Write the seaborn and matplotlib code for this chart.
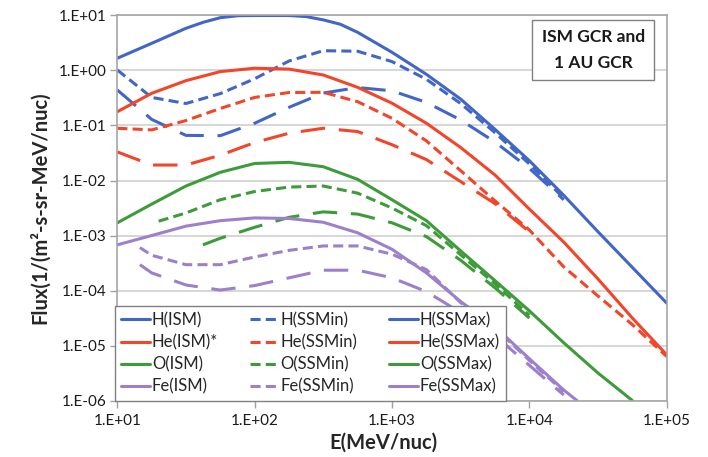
import matplotlib
matplotlib.use("Agg")
import matplotlib.pyplot as plt
import seaborn as sns
from matplotlib.lines import Line2D
from matplotlib.ticker import FixedLocator, FuncFormatter, NullLocator
import numpy as np

# Kinetic energy grid (MeV/nuc), quarter-decade steps
E_GRID = [10, 17.8, 31.6, 56.2, 100, 178, 316, 562, 1000, 1780, 3160,
          5620, 10000, 17800, 31600, 56200, 100000]

# Differential flux, 1/(m^2 s sr MeV/nuc)
h_ism_e = [10, 17.8, 31.6, 42.2, 56.2, 75, 100, 178, 237, 316, 421, 562,
           1000, 1780, 3160, 5620, 10000, 17800, 31600, 56200, 100000]
h_ism = [1.67, 3.12, 5.85, 7.52, 9.12, 9.9, 10.0, 10.0, 9.55, 8.32, 6.92,
         4.94, 2.14, 0.851, 0.302, 0.0851, 0.0229, 5.37e-3, 1.17e-3, 2.63e-4,
         5.89e-5]
h_ssmin = [1.02, 0.324, 0.251, 0.380, 0.708, 1.49, 2.29, 2.24, 1.45, 0.692,
           0.251, 0.0741, 0.0200, 4.79e-3]
h_ssmax = [0.442, 0.129, 0.0661, 0.0653, 0.110, 0.214, 0.389, 0.490, 0.427,
           0.263, 0.126, 0.0501, 0.0166, 4.47e-3]

he_ism = [0.178, 0.385, 0.653, 0.955, 1.10, 1.06, 0.828, 0.494, 0.254, 0.110,
          0.0398, 0.0126, 3.02e-3, 7.59e-4, 1.62e-4, 3.16e-5, 6.76e-6]
he_ssmin = [0.0891, 0.0832, 0.123, 0.204, 0.324, 0.398, 0.401, 0.271, 0.135,
            0.0525, 0.0151, 4.27e-3, 1.26e-3, 2.69e-4, 7.94e-5, 2.40e-5, 6.31e-6]
he_ssmax = [0.0331, 0.0191, 0.0191, 0.0288, 0.0490, 0.0724, 0.0891, 0.0776,
            0.0447, 0.0240, 9.55e-3, 3.80e-3, 1.17e-3]

o_ism = [1.70e-3, 3.72e-3, 7.94e-3, 0.0141, 0.0204, 0.0214, 0.0178, 0.0105,
         4.47e-3, 1.86e-3, 5.25e-4, 1.51e-4, 4.27e-5, 1.12e-5, 3.16e-6, 1.0e-6]
o_ssmin_e = [20, 31.6, 56.2, 100, 178, 316, 562, 1000, 1780, 3160, 5620, 10000]
o_ssmin = [1.82e-3, 2.57e-3, 4.47e-3, 6.31e-3, 7.59e-3, 7.94e-3, 5.89e-3,
           3.16e-3, 1.51e-3, 4.47e-4, 1.32e-4, 3.55e-5]
o_ssmax_e = [42, 56.2, 100, 178, 316, 562, 1000, 1780, 3160, 5620, 10000]
o_ssmax = [6.76e-4, 8.91e-4, 1.41e-3, 2.14e-3, 2.69e-3, 2.45e-3, 1.70e-3,
           9.55e-4, 3.55e-4, 1.12e-4, 3.16e-5]

fe_ism_e = [10, 17.8, 31.6, 56.2, 100, 178, 316, 562, 1000, 1780, 3160, 5620,
            10000, 17800, 22200]
fe_ism = [6.76e-4, 1.0e-3, 1.48e-3, 1.86e-3, 2.09e-3, 2.04e-3, 1.74e-3,
          1.12e-3, 5.62e-4, 2.09e-4, 6.31e-5, 2.19e-5, 5.75e-6, 1.55e-6, 1.0e-6]
fe_min_e = [14.6, 17.8, 31.6, 56.2, 100, 178, 316, 562, 1000, 1780, 3160,
            5620, 10000, 17800]
fe_ssmin = [6.03e-4, 4.37e-4, 2.95e-4, 2.95e-4, 4.07e-4, 5.37e-4, 6.46e-4,
            6.46e-4, 4.57e-4, 2.40e-4, 6.03e-5, 2.09e-5, 5.37e-6, 1.45e-6]
fe_ssmax = [2.95e-4, 2.09e-4, 1.26e-4, 1.02e-4, 1.23e-4, 1.70e-4, 2.34e-4,
            2.34e-4, 1.70e-4, 9.55e-5, 3.98e-5, 1.51e-5, 4.37e-6, 1.26e-6]

labels_ism = ["H(ISM)", "He(ISM)*", "O(ISM)", "Fe(ISM)"]
labels_min = ["H(SSMin)", "He(SSMin)", "O(SSMin)", "Fe(SSMin)"]
labels_max = ["H(SSMax)", "He(SSMax)", "O(SSMax)", "Fe(SSMax)"]

BLUE, RED, GREEN, PURPLE = "#4166c6", "#f2452a", "#3d9b3a", "#9c80cb"
SOLID = "-"
SHORT = (0, (3.3, 1.7))
LONG = (0, (8.0, 4.5))
LW = 2.2

series = [
    (h_ism_e, h_ism, BLUE, SOLID), (E_GRID[:14], h_ssmin, BLUE, SHORT),
    (E_GRID[:14], h_ssmax, BLUE, LONG),
    (E_GRID, he_ism, RED, SOLID), (E_GRID, he_ssmin, RED, SHORT),
    (E_GRID[:13], he_ssmax, RED, LONG),
    (E_GRID[:16], o_ism, GREEN, SOLID), (o_ssmin_e, o_ssmin, GREEN, SHORT),
    (o_ssmax_e, o_ssmax, GREEN, LONG),
    (fe_ism_e, fe_ism, PURPLE, SOLID), (fe_min_e, fe_ssmin, PURPLE, SHORT),
    (fe_min_e, fe_ssmax, PURPLE, LONG),
]

sns.set_style("white")
plt.rcParams["font.family"] = ["Lato", "DejaVu Sans"]

fig = plt.figure(figsize=(7.08, 4.57), dpi=100)
ax = fig.add_axes([0.1657, 0.1236, 0.7760, 0.8425])
ax.set_xscale("log")
ax.set_yscale("log")

for e, f, c, ls in series:
    sns.lineplot(x=e, y=f, ax=ax, color=c, linewidth=LW, linestyle=ls,
                 estimator=None, sort=False, legend=False)
for line in ax.lines:
    line.set_dash_capstyle("butt")
    line.set_solid_joinstyle("round")

ax.set_xlim(10, 1e5)
ax.set_ylim(1e-6, 1e1)

fmt = FuncFormatter(lambda v, _: "1.E{:+03d}".format(int(round(np.log10(v)))))
ax.xaxis.set_major_locator(FixedLocator([1e1, 1e2, 1e3, 1e4, 1e5]))
ax.yaxis.set_major_locator(FixedLocator([10.0 ** k for k in range(-6, 2)]))
ax.xaxis.set_minor_locator(NullLocator())
ax.yaxis.set_minor_locator(NullLocator())
ax.xaxis.set_major_formatter(fmt)
ax.yaxis.set_major_formatter(fmt)
ax.tick_params(axis="both", which="major", direction="out", length=5,
               width=1, color="#a0a0a0", labelsize=11, labelcolor="#1a1a1a",
               bottom=True, left=True)
ax.tick_params(axis="y", pad=3)
ax.tick_params(axis="x", pad=5)
ax.yaxis.grid(True, color="#d0d0d0", linewidth=1.2)
ax.xaxis.grid(False)
ax.set_axisbelow(True)
for s in ax.spines.values():
    s.set_color("#a6a6a6")
    s.set_linewidth(1.2)

ax.set_xlabel("E(MeV/nuc)", fontsize=14.5, fontweight="bold")
ax.xaxis.set_label_coords(0.485, -0.083)
ax.set_ylabel("Flux(1/(m²-s-sr-MeV/nuc)", fontsize=14.5, fontweight="bold",
              labelpad=6)

handles = []
for c, lab in zip([BLUE, RED, GREEN, PURPLE], labels_ism):
    handles.append(Line2D([], [], color=c, lw=LW, ls=SOLID, label=lab))
for c, lab in zip([BLUE, RED, GREEN, PURPLE], labels_min):
    handles.append(Line2D([], [], color=c, lw=LW, ls=SHORT, label=lab,
                          dash_capstyle="butt"))
for c, lab in zip([BLUE, RED, GREEN, PURPLE], labels_max):
    handles.append(Line2D([], [], color=c, lw=LW, ls=SOLID, label=lab))

leg = ax.legend(handles=handles, ncol=3, loc="lower left",
                bbox_to_anchor=(-0.004, 0.0), borderaxespad=0,
                fontsize=12, frameon=True, fancybox=False, framealpha=1,
                edgecolor="#808080", handlelength=1.75, handletextpad=0.1,
                columnspacing=1.9, labelspacing=0.36, borderpad=0.35)
leg.get_frame().set_linewidth(1.0)

ax.text(0.8664, 0.9104, "ISM GCR and\n1 AU GCR", transform=ax.transAxes,
        ha="center", va="center", fontsize=12.5, fontweight="bold",
        linespacing=1.75, color="#1a1a1a",
        bbox=dict(boxstyle="square,pad=0.55", fc="white", ec="#808080",
                  lw=1.0))

fig.savefig("out.png", dpi=100)
